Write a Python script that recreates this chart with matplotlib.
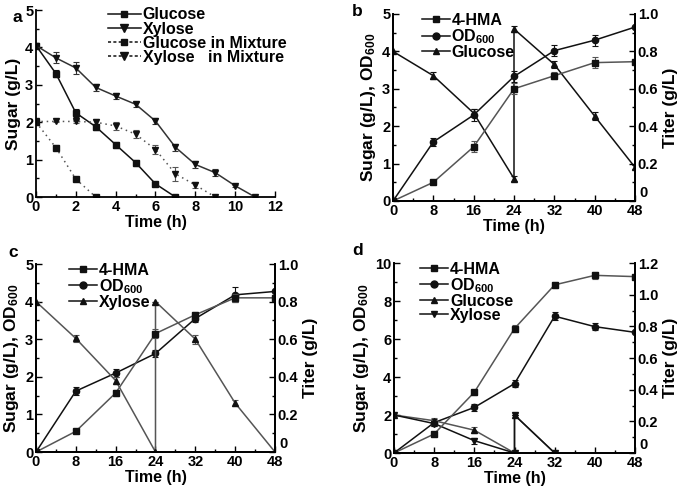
import matplotlib
matplotlib.use("Agg")
import matplotlib.pyplot as plt
from matplotlib.ticker import MultipleLocator, FuncFormatter
from matplotlib.lines import Line2D
from matplotlib.legend_handler import HandlerLine2D
import numpy as np

plt.rcParams['font.family'] = ['Liberation Sans', 'DejaVu Sans']
plt.rcParams['font.weight'] = 'bold'
plt.rcParams['axes.labelweight'] = 'bold'
plt.rcParams['mathtext.fontset'] = 'custom'
plt.rcParams['mathtext.rm'] = 'Liberation Sans:bold'
plt.rcParams['mathtext.it'] = 'Liberation Sans:bold'
plt.rcParams['mathtext.bf'] = 'Liberation Sans:bold'

# ---------------- Panel a data ----------------
a_glc_t = [0, 1, 2, 3, 4, 5, 6, 7]
a_glc = [4.05, 3.3, 2.25, 1.88, 1.4, 0.92, 0.35, 0.0]
a_glc_err = [0.05, 0.1, 0.1, 0.08, 0.08, 0.08, 0.06, 0.0]
a_xyl_t = [0, 1, 2, 3, 4, 5, 6, 7, 8, 9, 10, 11]
a_xyl = [4.05, 3.72, 3.45, 2.93, 2.7, 2.48, 2.03, 1.33, 0.87, 0.65, 0.3, 0.0]
a_xyl_err = [0.05, 0.15, 0.15, 0.1, 0.08, 0.07, 0.07, 0.1, 0.1, 0.1, 0.03, 0.0]
a_mglc_t = [0, 1, 2, 3]
a_mglc = [2.0, 1.32, 0.48, 0.0]
a_mglc_err = [0.02, 0.06, 0.06, 0.0]
a_mxyl_t = [0, 1, 2, 3, 4, 5, 6, 7, 8, 9]
a_mxyl = [2.02, 2.02, 2.02, 2.0, 1.9, 1.68, 1.27, 0.62, 0.32, 0.0]
a_mxyl_err = [0.02, 0.02, 0.03, 0.08, 0.1, 0.1, 0.12, 0.18, 0.08, 0.0]

# ---------------- Panel b data ----------------
t = [0, 8, 16, 24, 32, 40, 48]
b_hma = [0.0, 0.10, 0.29, 0.60, 0.67, 0.74, 0.745]
b_hma_err = [0.0, 0.005, 0.03, 0.03, 0.02, 0.03, 0.0]
b_od = [0.0, 1.58, 2.3, 3.33, 4.02, 4.3, 4.65]
b_od_err = [0.0, 0.1, 0.15, 0.15, 0.15, 0.15, 0.0]
b_glc_t = [0, 8, 16, 24, 24, 32, 40, 48]
b_glc = [4.0, 3.35, 2.35, 0.6, 4.6, 3.65, 2.27, 0.9]
b_glc_err = [0.0, 0.1, 0.1, 0.06, 0.08, 0.1, 0.1, 0.05]

# ---------------- Panel c data ----------------
c_hma = [0.0, 0.11, 0.314, 0.63, 0.73, 0.82, 0.82]
c_hma_err = [0.0, 0.005, 0.015, 0.025, 0.015, 0.02, 0.0]
c_od = [0.0, 1.62, 2.1, 2.62, 3.55, 4.18, 4.27]
c_od_err = [0.0, 0.1, 0.1, 0.1, 0.1, 0.2, 0.0]
c_xyl_t = [0, 8, 16, 24, 24, 32, 40, 48]
c_xyl = [4.0, 3.02, 1.9, 0.0, 4.0, 3.0, 1.3, 0.0]
c_xyl_err = [0.0, 0.1, 0.1, 0.0, 0.0, 0.12, 0.08, 0.0]

# ---------------- Panel d data ----------------
d_hma = [0.0, 0.12, 0.384, 0.786, 1.062, 1.122, 1.114]
d_hma_err = [0.0, 0.012, 0.015, 0.02, 0.02, 0.02, 0.0]
d_od = [0.0, 1.6, 2.4, 3.65, 7.2, 6.65, 6.35]
d_od_err = [0.0, 0.2, 0.2, 0.2, 0.2, 0.2, 0.0]
d_glc_t = [0, 8, 16, 24, 24, 32]
d_glc = [2.0, 1.7, 1.2, 0.0, 2.0, 0.0]
d_glc_err = [0.0, 0.15, 0.15, 0.0, 0.0, 0.0]
d_xyl_t = [0, 8, 16, 24, 24, 32]
d_xyl = [2.0, 1.55, 0.65, 0.0, 2.0, 0.0]
d_xyl_err = [0.0, 0.12, 0.15, 0.0, 0.0, 0.0]

W, H = 685, 494
fig = plt.figure(figsize=(W / 100, H / 100), dpi=100)


def add_ax(l, r, top, bot):
    return fig.add_axes([l / W, 1 - bot / H, (r - l) / W, (bot - top) / H])


TICK = 10.5
XLAB = 11.5
YLAB = 12.5
LEG = 11.5
BLACK = '#111111'
DARK = '#333333'
GRAY = '#555555'


class MarkerRight(HandlerLine2D):
    def get_xdata(self, legend, xdescent, ydescent, width, height, fontsize):
        xdata = np.array([-xdescent, -xdescent + width])
        xm = np.array([-xdescent + 0.6 * width])
        return xdata, xm


def style(ax, right=False):
    ax.tick_params(direction='in', labelsize=TICK, length=4, width=1, which='major', pad=2)
    ax.tick_params(direction='in', length=2.5, width=1, which='minor')
    for s in ax.spines.values():
        s.set_linewidth(1.3)
    ax.spines['top'].set_visible(False)
    if not right:
        ax.spines['right'].set_visible(False)
    for lab in ax.get_xticklabels() + ax.get_yticklabels():
        lab.set_fontweight('bold')


def eb(ax, x, y, e, marker, color, ls='-', label=None, ms=4.5):
    ax.errorbar(x, y, yerr=e, marker=marker, color=color, ls=ls, lw=1.1, ms=ms,
                capsize=2.2, elinewidth=0.8, capthick=0.8, ecolor=color, label=label,
                mfc=BLACK, mec=BLACK)


# ----- Panel a -----
ax = add_ax(36, 275, 10, 197)
eb(ax, a_glc_t, a_glc, a_glc_err, 's', BLACK, '-', 'Glucose', ms=4)
eb(ax, a_xyl_t, a_xyl, a_xyl_err, 'v', DARK, '-', 'Xylose', ms=5)
eb(ax, a_mglc_t, a_mglc, a_mglc_err, 's', GRAY, (0, (1, 2.5)), 'Glucose in Mixture', ms=4)
eb(ax, a_mxyl_t, a_mxyl, a_mxyl_err, 'v', GRAY, (0, (1, 2.5)), 'Xylose   in Mixture', ms=5)
ax.set_xlim(0, 12)
ax.set_ylim(0, 5)
ax.xaxis.set_major_locator(MultipleLocator(2))
ax.xaxis.set_minor_locator(MultipleLocator(1))
ax.yaxis.set_major_locator(MultipleLocator(1))
ax.yaxis.set_minor_locator(MultipleLocator(0.5))
style(ax)
ax.set_xlabel('Time (h)', fontsize=XLAB, labelpad=1)
ax.set_ylabel('Sugar (g/L)', fontsize=YLAB, labelpad=3)
hs_a = [Line2D([], [], color=BLACK, marker='s', ms=4.5, lw=1.1),
        Line2D([], [], color=BLACK, marker='v', ms=5.5, lw=1.1),
        Line2D([], [], color=BLACK, marker='s', ms=4.5, lw=1.1, ls=(0, (2, 1.5))),
        Line2D([], [], color=BLACK, marker='v', ms=5.5, lw=1.1, ls=(0, (2, 1.5)))]
ax.legend(hs_a, ['Glucose', 'Xylose', 'Glucose in Mixture', 'Xylose   in Mixture'],
          loc='upper left', bbox_to_anchor=(0.26, 1.065), frameon=False,
          fontsize=LEG, handlelength=2.1, handletextpad=0.1, labelspacing=-0.05,
          borderpad=0.1, numpoints=1)
fig.text(12 / W, 1 - 17 / H, 'a', fontsize=12.5, fontweight='bold', va='center')

# right-axis zero is drawn separately (raised above the "48" label)
rfmt = FuncFormatter(lambda v, p: '' if abs(v) < 1e-9 else f'{v:.1f}')


def panel(l, r, top, bot, hma, hma_e, od, od_e, sugars, ymax_l, ymax_r, ymaj_l, ymin_l,
          ymaj_r, ymin_r, letter, lx, ly):
    ax = add_ax(l, r, top, bot)
    ax2 = ax.twinx()
    ax2.errorbar(t, hma, yerr=hma_e, marker='s', color=GRAY, ls='-', lw=1.1, ms=4,
                 capsize=2.2, elinewidth=0.8, capthick=0.8, mfc=BLACK, mec=BLACK)
    eb(ax, t, od, od_e, 'o', BLACK, '-', None, ms=4.5)
    for (st, sv, se, mk, col) in sugars:
        eb(ax, st, sv, se, mk, col, '-', None, ms=4.5)
    ax.set_xlim(0, 48)
    ax.set_ylim(0, ymax_l)
    ax2.set_ylim(0, ymax_r)
    ax.xaxis.set_major_locator(MultipleLocator(8))
    ax.xaxis.set_minor_locator(MultipleLocator(4))
    ax.yaxis.set_major_locator(MultipleLocator(ymaj_l))
    ax.yaxis.set_minor_locator(MultipleLocator(ymin_l))
    ax2.yaxis.set_major_locator(MultipleLocator(ymaj_r))
    ax2.yaxis.set_minor_locator(MultipleLocator(ymin_r))
    ax2.yaxis.set_major_formatter(rfmt)
    style(ax, right=True)
    style(ax2, right=True)
    ax2.annotate('0', xy=(1, 0), xycoords='axes fraction', xytext=(3, 1),
                 textcoords='offset points', ha='left', va='bottom',
                 fontsize=TICK, fontweight='bold')
    ax.set_xlabel('Time (h)', fontsize=XLAB, labelpad=1)
    ax.set_ylabel('Sugar (g/L), OD$_{600}$', fontsize=YLAB, labelpad=3)
    ax2.set_ylabel('Titer (g/L)', fontsize=YLAB, labelpad=3)
    fig.text(lx / W, 1 - ly / H, letter, fontsize=12.5, fontweight='bold', va='center')
    return ax, ax2


def mk_leg(ax, entries, anchor):
    hs = [Line2D([], [], color=BLACK, marker=m, ms=5, lw=1.1) for m, _ in entries]
    ax.legend(hs, [n for _, n in entries], loc='upper left', bbox_to_anchor=anchor,
              frameon=False, fontsize=LEG, handlelength=1.75, handletextpad=0.1,
              labelspacing=-0.05, borderpad=0.1, numpoints=1,
              handler_map={Line2D: MarkerRight()})


ax, ax2 = panel(393, 635, 14, 201, b_hma, b_hma_err, b_od, b_od_err,
                [(b_glc_t, b_glc, b_glc_err, '^', BLACK)],
                5, 1.0, 1, 0.5, 0.2, 0.1, 'b', 352, 12)
mk_leg(ax2, [('s', '4-HMA'), ('o', 'OD$_{600}$'), ('^', 'Glucose')], (0.08, 1.057))

ax, ax2 = panel(36, 275, 264, 452, c_hma, c_hma_err, c_od, c_od_err,
                [(c_xyl_t, c_xyl, c_xyl_err, '^', GRAY)],
                5, 1.0, 1, 0.5, 0.2, 0.1, 'c', 8, 252)
mk_leg(ax2, [('s', '4-HMA'), ('o', 'OD$_{600}$'), ('^', 'Xylose')], (0.1, 1.057))

ax, ax2 = panel(394, 635, 263, 453, d_hma, d_hma_err, d_od, d_od_err,
                [(d_glc_t, d_glc, d_glc_err, '^', GRAY), (d_xyl_t, d_xyl, d_xyl_err, 'v', BLACK)],
                10, 1.2, 2, 1, 0.2, 0.1, 'd', 352, 250)
mk_leg(ax2, [('s', '4-HMA'), ('o', 'OD$_{600}$'), ('^', 'Glucose'), ('v', 'Xylose')], (0.07, 1.057))

fig.savefig('out.png', dpi=100)
